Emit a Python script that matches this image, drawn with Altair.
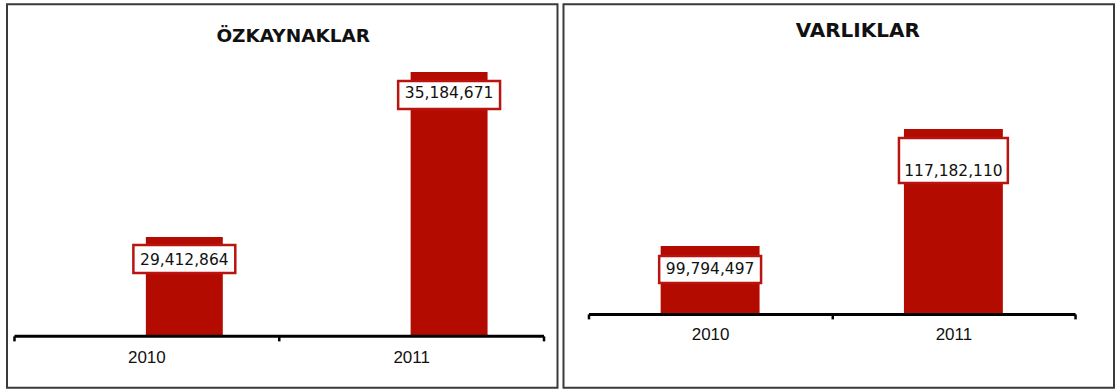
import altair as alt
import pandas as pd

# ---- data ----
years = ["2010", "2011"]
ozkaynaklar = [29412864, 35184671]
varliklar = [99794497, 117182110]
titles = ["ÖZKAYNAKLAR", "VARLIKLAR"]

# ---- styles ----
BAR = "#B30B00"
BOX = "#BA1410"
BORDER = "#3A3A3A"
PANEL_W = 551
PANEL_H = 384


def box_shape(w, h):
    r = h / w
    return f"M-1,-{r:.4f}L1,-{r:.4f}L1,{r:.4f}L-1,{r:.4f}Z"


def panel(title, values, title_pos, title_size, domain, base, axis_offset,
          x_range, bar_w, bar_dx, label_pad, boxes):
    df = pd.DataFrame({
        "Yil": years,
        "Deger": values,
        "Etiket": [f"{v:,}" for v in values],
    })
    x = alt.X(
        "Yil:N",
        title=None,
        scale=alt.Scale(range=x_range, paddingInner=0, paddingOuter=0),
        axis=alt.Axis(
            orient="bottom", offset=axis_offset, grid=False, title=None,
            domain=True, domainColor="black", domainWidth=3,
            ticks=True, tickBand="extent", tickColor="black", tickWidth=2.5,
            tickSize=5, labelAngle=0, labelFont="Liberation Sans",
            labelFontSize=17, labelColor="#111111", labelBaseline="middle",
            labelPadding=label_pad, zindex=2,
        ),
    )
    y = alt.Y("Deger:Q", axis=None,
              scale=alt.Scale(domain=domain, zero=False, nice=False))
    base_chart = alt.Chart(df)
    layers = [
        base_chart.mark_bar(color=BAR, width=bar_w, xOffset=bar_dx).encode(
            x=x, y=y, y2=alt.datum(base)
        )
    ]
    for yr, (w, h, box_dy, text_dy) in zip(years, boxes):
        sub = base_chart.transform_filter(alt.datum.Yil == yr)
        layers.append(
            sub.mark_point(
                shape=box_shape(w, h), size=w * w, filled=True, fill="white",
                stroke=BOX, strokeWidth=2.5, opacity=1,
                xOffset=bar_dx, yOffset=box_dy,
            ).encode(x=x, y=y)
        )
        layers.append(
            sub.mark_text(
                font="DejaVu Sans", fontSize=15.5, color="#111111",
                align="center", baseline="middle",
                xOffset=bar_dx, yOffset=text_dy,
            ).encode(x=x, y=y, text="Etiket:N")
        )
    layers.append(
        alt.Chart(pd.DataFrame({"t": [title]})).mark_text(
            font="DejaVu Sans", fontSize=title_size, fontWeight="bold",
            color="#111111", align="center", baseline="middle",
        ).encode(text="t:N", x=alt.value(title_pos[0]), y=alt.value(title_pos[1]))
    )
    return alt.layer(*layers).properties(width=PANEL_W, height=PANEL_H)


left = panel(
    titles[0], ozkaynaklar, (286.5, 32), 18.5,
    [24.13e6, 37.56e6], 25.95e6, -52, [7, 537], 77, 38, 17,
    [(102, 28, 22, 23), (102, 28, 23, 21)],
)
right = panel(
    titles[1], varliklar, (294.5, 27), 20,
    [78.69e6, 135.76e6], 89.69e6, -74, [25, 512], 99, 0, 16,
    [(102, 27, 23.5, 23), (109, 45, 31.5, 42)],
)

chart = alt.hconcat(left, right, spacing=4).properties(
    padding={"left": 6, "top": 3, "right": 0, "bottom": 0},
    background="white",
).configure_view(stroke=BORDER, strokeWidth=2)

chart.save("out.html", embed_options={"renderer": "svg", "actions": False})
